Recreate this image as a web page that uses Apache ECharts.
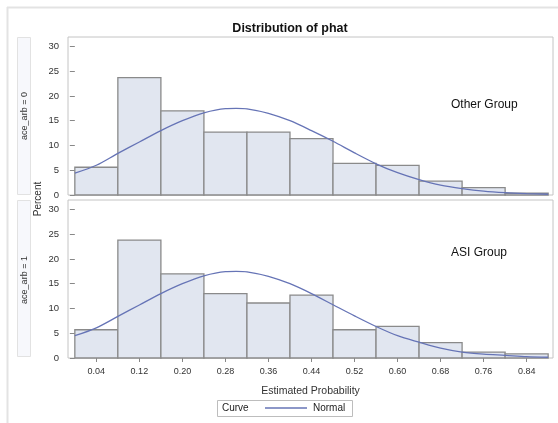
<!DOCTYPE html>
<html>
<head>
<meta charset="utf-8">
<script src="https://cdn.jsdelivr.net/npm/echarts@6/dist/echarts.min.js"></script>
<style>html,body{margin:0;padding:0;background:#fff}#c{width:558px;height:423px}</style>
</head>
<body>
<div id="c"></div>
<script>
// ---- data ----
const binCenters = [0.04, 0.12, 0.20, 0.28, 0.36, 0.44, 0.52, 0.60, 0.68, 0.76, 0.84];
const binWidth = 0.08;
const pctOther = [5.6, 23.7, 17.0, 12.7, 12.7, 11.4, 6.4, 6.0, 2.8, 1.5, 0.35];
const pctASI   = [5.7, 23.8, 17.0, 13.0, 11.1, 12.7, 5.7, 6.4, 3.1, 1.2, 0.85];
const curveX     = [0.00, 0.04, 0.08, 0.12, 0.16, 0.20, 0.24, 0.28, 0.30, 0.32, 0.36, 0.40, 0.44, 0.48, 0.52, 0.56, 0.60, 0.64, 0.68, 0.72, 0.76, 0.80, 0.84, 0.88];
const curveOther = [4.4, 6.0, 8.4, 10.7, 13.0, 15.0, 16.6, 17.45, 17.5, 17.4, 16.5, 15.0, 13.0, 10.85, 8.5, 6.3, 4.5, 3.1, 2.0, 1.3, 0.78, 0.47, 0.28, 0.15];
const curveASI   = [4.5, 6.1, 8.4, 10.7, 13.0, 15.0, 16.6, 17.45, 17.5, 17.4, 16.5, 15.0, 13.0, 10.75, 8.5, 6.36, 4.5, 3.2, 2.0, 1.2, 0.78, 0.54, 0.28, 0.15];
const xTickValues = [0.04, 0.12, 0.20, 0.28, 0.36, 0.44, 0.52, 0.60, 0.68, 0.76, 0.84];
const yTickValues = [0, 5, 10, 15, 20, 25, 30];
const titleText = 'Distribution of phat';
const panelLabels = ['ace_arb = 0', 'ace_arb = 1'];
const groupLabels = ['Other Group', 'ASI Group'];
const xTitle = 'Estimated Probability';
const yTitle = 'Percent';

const FONT = '"Liberation Sans", Arial, sans-serif';
const barFill = '#e1e6f0', barStroke = '#8a8a8a', curveColor = '#6674b6';

function renderItem(params, api) {
  const c = api.value(0), v = api.value(1);
  const p0 = api.coord([c - binWidth / 2, v]);
  const p1 = api.coord([c + binWidth / 2, 0]);
  return {
    type: 'rect',
    shape: { x: p0[0], y: p0[1], width: p1[0] - p0[0], height: p1[1] - p0[1] },
    style: { fill: barFill, stroke: barStroke, lineWidth: 1.3 }
  };
}

const grids = [
  { left: 68, top: 37, width: 485, height: 158 },
  { left: 68, top: 200, width: 485, height: 158 }
];

function xAxis(i) {
  return {
    type: 'value', gridIndex: i, min: -0.0127, max: 0.889,
    splitLine: { show: false },
    axisLine: { show: false },
    axisTick: { show: i === 1, inside: false, length: 4, lineStyle: { color: '#888' }, customValues: xTickValues },
    axisLabel: {
      show: i === 1, margin: 9, fontSize: 9, color: '#333', fontFamily: FONT,
      customValues: xTickValues,
      formatter: v => v.toFixed(2)
    },
    name: i === 1 ? xTitle : '', nameLocation: 'middle', nameGap: 28,
    nameTextStyle: { fontSize: 10.5, color: '#333', fontFamily: FONT }
  };
}
function yAxis(i) {
  return {
    type: 'value', gridIndex: i, min: 0, max: 31.9,
    splitLine: { show: false },
    axisLine: { show: false },
    axisTick: { show: true, inside: false, length: 5, lineStyle: { color: '#888' }, customValues: yTickValues },
    axisLabel: {
      margin: 9, fontSize: 9.5, color: '#333', fontFamily: FONT,
      customValues: yTickValues,
      formatter: v => (v % 5 === 0 ? String(v) : '')
    }
  };
}

const graphic = [
  { type: 'line', shape: { x1: 7, y1: 7.5, x2: 558, y2: 7.5 }, style: { stroke: '#e3e3e3', lineWidth: 2 }, silent: true },
  { type: 'line', shape: { x1: 7.5, y1: 7, x2: 7.5, y2: 423 }, style: { stroke: '#e3e3e3', lineWidth: 2 }, silent: true },
  // strips
  { type: 'rect', shape: { x: 17.5, y: 37.5, width: 13, height: 157 }, style: { fill: '#f7f8fc', stroke: '#e2e2e2', lineWidth: 1 } },
  { type: 'rect', shape: { x: 17.5, y: 200.5, width: 13, height: 156 }, style: { fill: '#f7f8fc', stroke: '#e2e2e2', lineWidth: 1 } },
  { type: 'text', x: 24.5, y: 116, rotation: Math.PI / 2,
    style: { text: panelLabels[0], fontSize: 9, fill: '#333', fontFamily: FONT, align: 'center', verticalAlign: 'middle' } },
  { type: 'text', x: 24.5, y: 280, rotation: Math.PI / 2,
    style: { text: panelLabels[1], fontSize: 9, fill: '#333', fontFamily: FONT, align: 'center', verticalAlign: 'middle' } },
  { type: 'text', x: 38, y: 199, rotation: Math.PI / 2,
    style: { text: yTitle, fontSize: 10, fill: '#333', fontFamily: FONT, align: 'center', verticalAlign: 'middle' } },
  // group labels
  { type: 'text', x: 451, y: 105,
    style: { text: groupLabels[0], fontSize: 12, fill: '#111', fontFamily: FONT, align: 'left', verticalAlign: 'middle' } },
  { type: 'text', x: 451, y: 253,
    style: { text: groupLabels[1], fontSize: 12, fill: '#111', fontFamily: FONT, align: 'left', verticalAlign: 'middle' } },
  // legend frame
  { type: 'rect', shape: { x: 217.5, y: 400.5, width: 135, height: 16 }, style: { fill: 'none', stroke: '#bdbdbd', lineWidth: 1 } },
  { type: 'text', x: 222, y: 408.5,
    style: { text: 'Curve', fontSize: 10, fill: '#222', fontFamily: FONT, align: 'left', verticalAlign: 'middle' } }
];

const option = {
  animation: false,
  backgroundColor: '#fff',
  title: {
    text: titleText, left: 285, top: 17, textAlign: 'center',
    textStyle: { fontSize: 12.5, fontWeight: 'bold', color: '#111', fontFamily: FONT }
  },
  grid: grids.map(g => Object.assign({ show: true, borderColor: '#c4c4c4', borderWidth: 1, backgroundColor: '#fff' }, g)),
  xAxis: [xAxis(0), xAxis(1)],
  yAxis: [yAxis(0), yAxis(1)],
  legend: {
    data: ['Normal'], left: 265, top: 403, padding: 0, itemGap: 4,
    itemWidth: 42, itemHeight: 1.5, icon: 'rect',
    textStyle: { fontSize: 10, color: '#222', fontFamily: FONT, padding: [0, 0, 0, 1] },
    selectedMode: false
  },
  graphic: graphic,
  series: [
    { type: 'custom', xAxisIndex: 0, yAxisIndex: 0, renderItem, encode: { x: 0, y: 1 },
      data: binCenters.map((c, i) => [c, pctOther[i]]), z: 2 },
    { type: 'custom', xAxisIndex: 1, yAxisIndex: 1, renderItem, encode: { x: 0, y: 1 },
      data: binCenters.map((c, i) => [c, pctASI[i]]), z: 2 },
    { type: 'line', name: 'Normal', xAxisIndex: 0, yAxisIndex: 0, smooth: 0.3, showSymbol: false, symbol: 'none',
      data: curveX.map((x, i) => [x, curveOther[i]]), lineStyle: { color: curveColor, width: 1.3 }, itemStyle: { color: curveColor }, z: 5 },
    { type: 'line', name: 'Normal', xAxisIndex: 1, yAxisIndex: 1, smooth: 0.3, showSymbol: false, symbol: 'none',
      data: curveX.map((x, i) => [x, curveASI[i]]), lineStyle: { color: curveColor, width: 1.3 }, itemStyle: { color: curveColor }, z: 5 }
  ]
};

const chart = echarts.init(document.getElementById('c'), null, { renderer: 'canvas' });
chart.setOption(option);
</script>
</body>
</html>
